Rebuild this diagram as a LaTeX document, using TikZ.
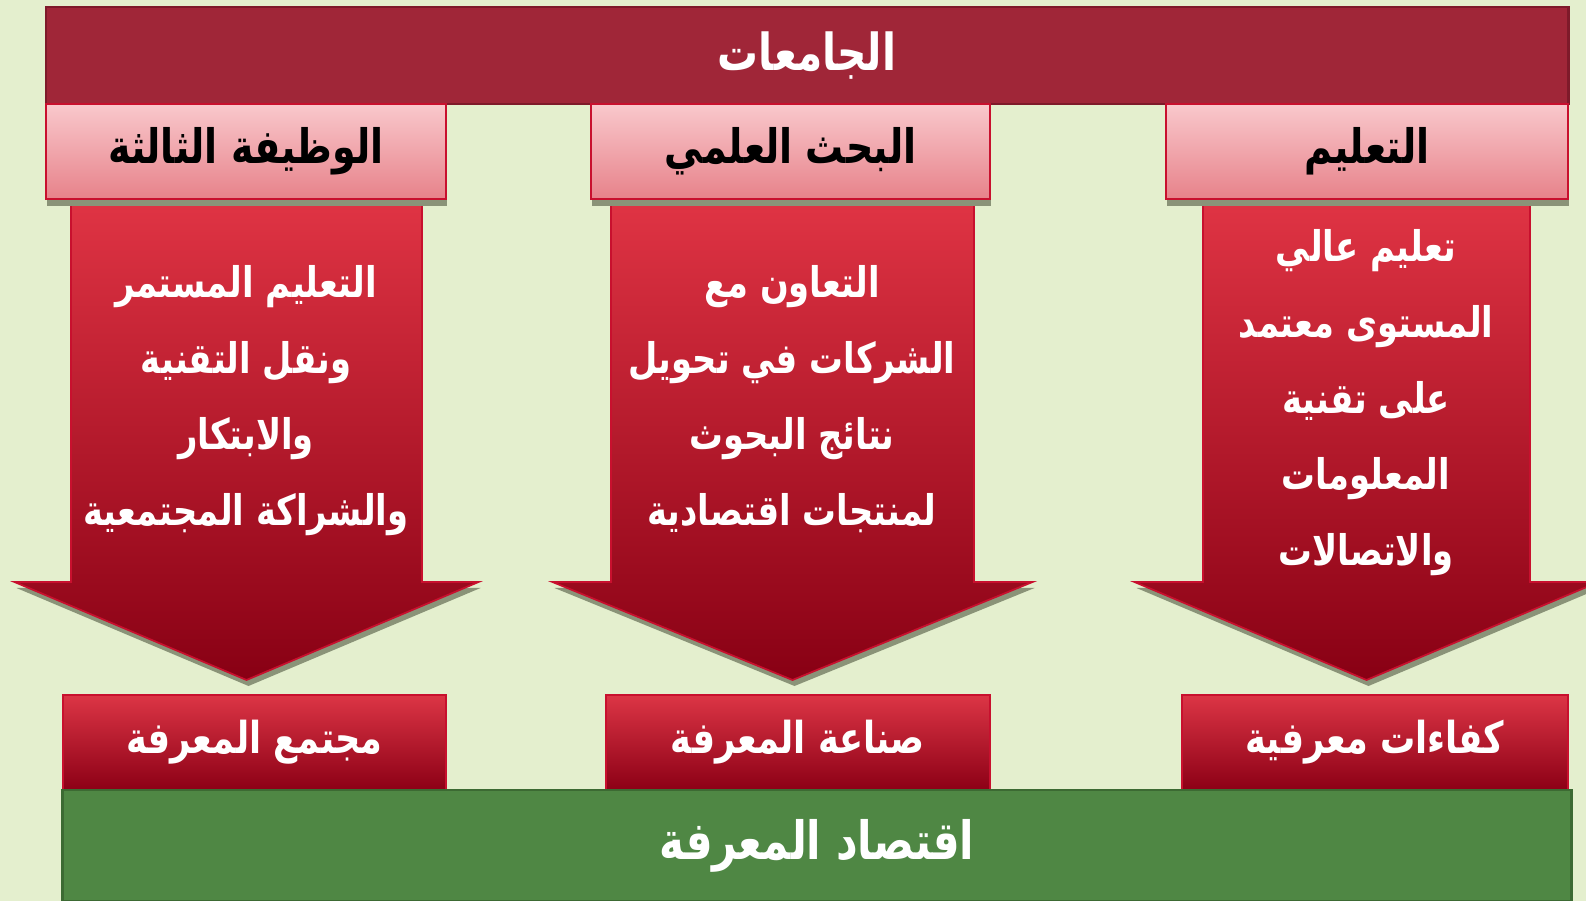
\documentclass[tikz,border=0pt]{standalone}
\usepackage{fontspec}
\usetikzlibrary{shadows}
\TeXXeTstate=1
\newfontfamily\arabicfont[Script=Arabic, FakeStretch=0.8]{DejaVu Sans}
\newcommand{\rl}[1]{\beginR #1\endR}

\definecolor{bgcol}{HTML}{E4EFCE}
\definecolor{univred}{HTML}{A02638}
\definecolor{univedge}{HTML}{7E1A2A}
\definecolor{headtop}{HTML}{F9C8CC}
\definecolor{headbot}{HTML}{E7828A}
\definecolor{headedge}{HTML}{C8102E}
\definecolor{arrtop}{HTML}{E03444}
\definecolor{arrbot}{HTML}{880014}
\definecolor{arredge}{HTML}{C8102E}
\definecolor{restop}{HTML}{DC3545}
\definecolor{resmid}{HTML}{B30C20}
\definecolor{resbot}{HTML}{8C0016}
\definecolor{econgreen}{HTML}{4F8744}
\definecolor{econedge}{HTML}{3C6A33}
\definecolor{shadowcol}{HTML}{8A9378}

\tikzset{
  univbar/.style={fill=univred, draw=univedge, line width=0.6pt,
    minimum width=15.22cm, minimum height=0.97cm, inner sep=0pt,
    text=white, font=\arabicfont\bfseries\fontsize{14.5}{16}\selectfont},
  headbox/.style={top color=headtop, bottom color=headbot, draw=headedge,
    line width=0.6pt, minimum width=4cm, minimum height=0.95cm, inner sep=0pt,
    drop shadow={shadow xshift=0.3pt, shadow yshift=-2pt, fill=shadowcol, opacity=1},
    text=black, font=\arabicfont\bfseries\fontsize{13.5}{16}\selectfont},
  arrowbody/.style={top color=arrtop, bottom color=arrbot, draw=arredge, line width=0.5pt},
  arrowtext/.style={text=white, align=center, inner sep=0pt,
    font=\arabicfont\bfseries\fontsize{12}{21.6}\selectfont},
  resultbox/.style={top color=restop, middle color=resmid, bottom color=resbot,
    draw=arredge, line width=0.5pt, minimum width=3.84cm, minimum height=0.95cm,
    inner sep=0pt, text=white, font=\arabicfont\bfseries\fontsize{12.5}{16}\selectfont},
  econbar/.style={fill=econgreen, draw=econedge, line width=0.8pt,
    minimum width=15.08cm, minimum height=1.11cm, inner sep=0pt,
    text=white, font=\arabicfont\bfseries\fontsize{15}{18}\selectfont}
}

\begin{document}
\begin{tikzpicture}[x=0.01cm,y=-0.01cm]
  \useasboundingbox (0,0) rectangle (1586,901);
  \fill[bgcol] (0,0) rectangle (1586,901);
  % big arrows: centre / half shaft / half head
  \foreach \c/\s/\h in {246.5/175.5/232, 792.5/181.5/240, 1366.5/163.5/232} {
    \fill[shadowcol] ({\c-\h+2},588) -- ({\c+\h+2},588) -- ({\c+2},686) -- cycle;
    \path[arrowbody] ({\c-\s},199) -- ({\c+\s},199) -- ({\c+\s},582)
      -- ({\c+\h},582) -- (\c,680) -- ({\c-\h},582) -- ({\c-\s},582) -- cycle;
  }
  \node[univbar] (univ) at (807,55.5) {\rl{الجامعات}};
  \node[headbox] (third) at (246,151.5) {\rl{الوظيفة الثالثة}};
  \node[headbox, minimum width=3.99cm] (research) at (790.5,151.5) {\rl{البحث العلمي}};
  \node[headbox, minimum width=4.02cm] (teaching) at (1367,151.5) {\rl{التعليم}};
  \node[arrowtext] (thirdtxt) at (246,401)
    {\rl{التعليم المستمر}\\\rl{ونقل التقنية}\\\rl{والابتكار}\\\rl{والشراكة المجتمعية}};
  \node[arrowtext] (researchtxt) at (792,399)
    {\rl{التعاون مع}\\\rl{الشركات في تحويل}\\\rl{نتائج البحوث}\\\rl{لمنتجات اقتصادية}};
  \node[arrowtext] (teachingtxt) at (1366,403)
    {\rl{تعليم عالي}\\\rl{المستوى معتمد}\\\rl{على تقنية}\\\rl{المعلومات}\\\rl{والاتصالات}};
  \node[resultbox, minimum width=3.83cm] (society) at (254.5,742.5) {\rl{مجتمع المعرفة}};
  \node[resultbox] (industry) at (798,742.5) {\rl{صناعة المعرفة}};
  \node[resultbox, minimum width=3.86cm] (skills) at (1375,742.5) {\rl{كفاءات معرفية}};
  \node[econbar] (economy) at (817,845.5) {\rl{اقتصاد المعرفة}};
\end{tikzpicture}
\end{document}
